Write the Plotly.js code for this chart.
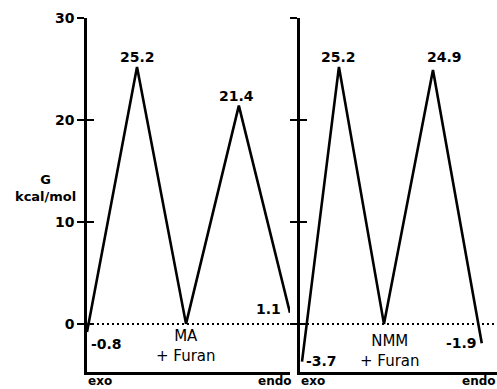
<!DOCTYPE html>
<html>
<head>
<meta charset="utf-8">
<script src="https://cdn.plot.ly/plotly-3.0.1.min.js"></script>
<style>html,body{margin:0;padding:0;background:#fff;}#chart{width:497px;height:389px;}</style>
</head>
<body>
<div id="chart"></div>
<script>
// Reaction coordinate positions (stage index)
const stagesMA = [0, 0.998, 1.976, 3.03, 4.05];
const energiesMA = [-0.8, 25.2, 0, 21.4, 1.1];
const labelsMA = ['-0.8', '25.2', 'MA<br>+ Furan', '21.4', '1.1'];

const stagesNMM = [0.045, 0.87, 1.875, 2.97, 4.06];
const energiesNMM = [-3.7, 25.2, 0, 24.9, -1.9];
const labelsNMM = ['-3.7', '25.2', 'NMM<br>+ Furan', '24.9', '-1.9'];

const yTickVals = [0, 10, 20, 30];
const yTickText = ['0', '10', '20', '30'];
const endLabels = ['exo', 'endo'];
const yLabel = 'G<br>kcal/mol';

const numFont = {family: 'DejaVu Sans', size: 14, color: '#000', weight: 'bold'};
const txtFont = {family: 'DejaVu Sans', size: 15, color: '#000'};
const endFont = {family: 'DejaVu Sans', size: 12, color: '#000', weight: 'bold'};
const yRange = [-4.72, 30];

const lineStyle = {color: '#000', width: 2.6};

const traces = [
  {x: stagesMA, y: energiesMA, xaxis: 'x', yaxis: 'y', mode: 'lines', line: lineStyle, hoverinfo: 'skip'},
  {x: stagesNMM, y: energiesNMM, xaxis: 'x2', yaxis: 'y2', mode: 'lines', line: lineStyle, hoverinfo: 'skip'},
  // invisible carriers for the inner tick axes
  {x: stagesMA, y: energiesMA, xaxis: 'x', yaxis: 'y3', mode: 'lines', line: {width: 0}, opacity: 0, hoverinfo: 'skip'},
  {x: stagesNMM, y: energiesNMM, xaxis: 'x2', yaxis: 'y4', mode: 'lines', line: {width: 0}, opacity: 0, hoverinfo: 'skip'}
];

// label placement relative to each point
const placeMA = [
  {xanchor: 'left', yanchor: 'middle', xshift: 3, yshift: -12},
  {xanchor: 'center', yanchor: 'bottom', xshift: 0, yshift: 1},
  {xanchor: 'center', yanchor: 'top', xshift: 0, yshift: -2},
  {xanchor: 'center', yanchor: 'bottom', xshift: -2, yshift: 1},
  {xanchor: 'right', yanchor: 'middle', xshift: -8, yshift: 4}
];
const placeNMM = [
  {xanchor: 'left', yanchor: 'middle', xshift: 3, yshift: 1},
  {xanchor: 'center', yanchor: 'bottom', xshift: 0, yshift: 1},
  {xanchor: 'center', yanchor: 'top', xshift: 6, yshift: -7},
  {xanchor: 'center', yanchor: 'bottom', xshift: 12, yshift: 4},
  {xanchor: 'right', yanchor: 'middle', xshift: -4, yshift: 0}
];

const annotations = [];
function addLabels(xs, ys, texts, places, xref, yref) {
  for (let i = 0; i < xs.length; i++) {
    const isText = texts[i].indexOf('Furan') >= 0;
    annotations.push(Object.assign({
      x: xs[i], y: ys[i], xref: xref, yref: yref, text: texts[i], showarrow: false,
      font: isText ? txtFont : numFont, align: 'center', borderpad: 0
    }, places[i]));
  }
}
addLabels(stagesMA, energiesMA, labelsMA, placeMA, 'x', 'y');
addLabels(stagesNMM, energiesNMM, labelsNMM, placeNMM, 'x2', 'y2');

// exo / endo under each panel
[['x domain', 3], ['x2 domain', 0]].forEach(([xr, endShift]) => {
  annotations.push({x: 0, xref: xr, xanchor: 'left', y: 0, yref: 'paper', yanchor: 'top', yshift: -1,
    text: endLabels[0], showarrow: false, font: endFont, borderpad: 0});
  annotations.push({x: 1, xref: xr, xanchor: 'right', y: 0, yref: 'paper', yanchor: 'top', yshift: -1, xshift: endShift,
    text: endLabels[1], showarrow: false, font: endFont, borderpad: 0});
});

annotations.push({x: 0, xref: 'paper', xshift: -42, xanchor: 'center', y: 13.3, yref: 'y', yanchor: 'middle',
  text: yLabel, showarrow: false, align: 'center',
  font: {family: 'DejaVu Sans', size: 13, color: '#000', weight: 'bold'}});

const baseX = {showline: true, linecolor: '#000', linewidth: 2.6, ticks: '', showticklabels: false,
  showgrid: false, zeroline: false, fixedrange: true};
const baseY = {range: yRange, showline: true, linecolor: '#000', linewidth: 2.6, ticks: 'outside', ticklen: 7,
  tickwidth: 2.6, tickcolor: '#000', tickmode: 'array', tickvals: yTickVals, ticktext: yTickText,
  showgrid: false, zeroline: false, fixedrange: true, tickfont: numFont};
const innerY = {range: yRange, showline: false, ticks: 'inside', ticklen: 7, tickwidth: 2.6, tickcolor: '#000',
  tickmode: 'array', tickvals: yTickVals, showticklabels: false, showgrid: false, zeroline: false, fixedrange: true};

const layout = {
  width: 497, height: 389,
  margin: {l: 87, r: 0, t: 18, b: 17, pad: 0},
  paper_bgcolor: '#fff', plot_bgcolor: '#fff',
  showlegend: false,
  xaxis: Object.assign({}, baseX, {domain: [0, 0.495], range: [0, 4.05], anchor: 'y'}),
  xaxis2: Object.assign({}, baseX, {domain: [0.5195, 1], range: [0, 4.4], anchor: 'y2'}),
  yaxis: Object.assign({}, baseY, {anchor: 'x'}),
  yaxis2: Object.assign({}, baseY, {anchor: 'x2', showticklabels: false}),
  yaxis3: Object.assign({}, innerY, {overlaying: 'y', anchor: 'x', side: 'left'}),
  yaxis4: Object.assign({}, innerY, {overlaying: 'y2', anchor: 'x2', side: 'left'}),
  shapes: [{type: 'line', xref: 'paper', x0: 0, x1: 1, yref: 'y', y0: 0, y1: 0,
    line: {color: '#000', width: 2, dash: '2px,3px'}}],
  annotations: annotations
};

Plotly.newPlot('chart', traces, layout, {displayModeBar: false, staticPlot: true});
</script>
</body>
</html>
